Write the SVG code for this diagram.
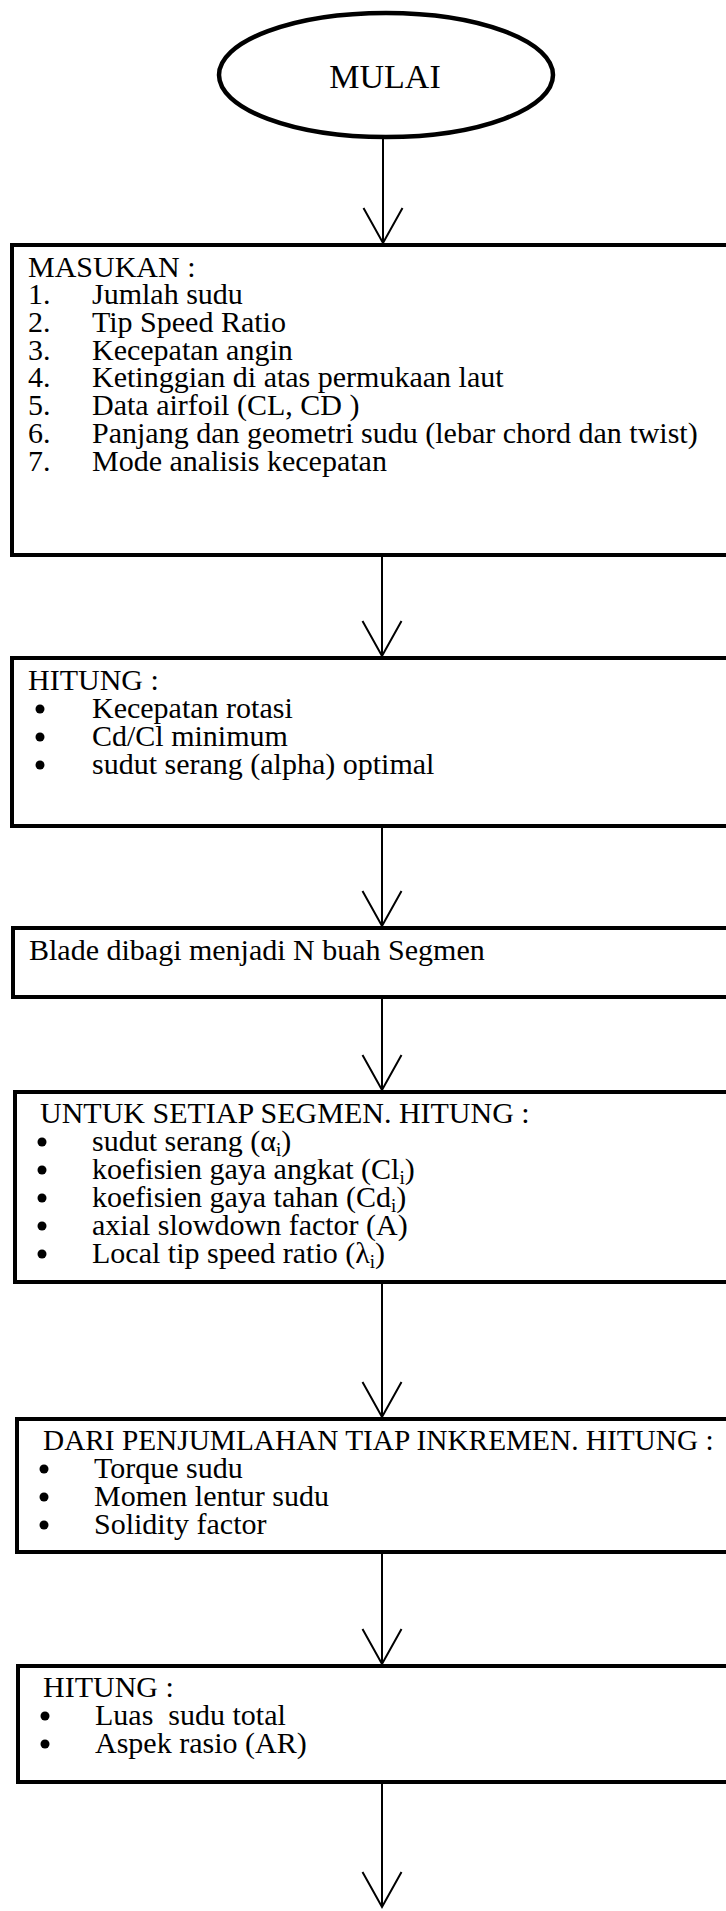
<svg xmlns="http://www.w3.org/2000/svg" width="726" height="1911" viewBox="0 0 726 1911">
<style>
.t{font-family:"Liberation Serif","Times New Roman",serif;font-size:30px;fill:#000}
.box{fill:#fff;stroke:#000;stroke-width:4}
.conn line{stroke:#000;stroke-width:2}
.sub{font-size:19px}
</style>
<defs>
<marker id="v" markerWidth="44" markerHeight="40" refX="20" refY="35" markerUnits="userSpaceOnUse" orient="0" overflow="visible">
<path d="M0.5,0 L20,35 L39.5,0" fill="none" stroke="#000" stroke-width="2"/>
</marker>
</defs>
<rect width="726" height="1911" fill="#fff"/>
<g id="connectors" class="conn">
<line x1="383" y1="137" x2="383" y2="243" marker-end="url(#v)"/>
<line x1="382" y1="555" x2="382" y2="656" marker-end="url(#v)"/>
<line x1="382" y1="826" x2="382" y2="926" marker-end="url(#v)"/>
<line x1="382" y1="997" x2="382" y2="1090" marker-end="url(#v)"/>
<line x1="382" y1="1282" x2="382" y2="1417" marker-end="url(#v)"/>
<line x1="382" y1="1552" x2="382" y2="1664" marker-end="url(#v)"/>
<line x1="382" y1="1782" x2="382" y2="1907" marker-end="url(#v)"/>
</g>
<g id="mulai">
<ellipse cx="386" cy="75" rx="167" ry="62" fill="#fff" stroke="#000" stroke-width="4.5"/>
<text class="t" x="385" y="88" text-anchor="middle" style="font-size:34px">MULAI</text>
</g>
<g id="masukan">
<rect class="box" x="12" y="245" width="740" height="310"/>
<text class="t" x="28" y="277">MASUKAN :</text>
<text class="t" x="28" y="304">1.</text><text class="t" x="92" y="304">Jumlah sudu</text>
<text class="t" x="28" y="332">2.</text><text class="t" x="92" y="332">Tip Speed Ratio</text>
<text class="t" x="28" y="360">3.</text><text class="t" x="92" y="360">Kecepatan angin</text>
<text class="t" x="28" y="387">4.</text><text class="t" x="92" y="387">Ketinggian di atas permukaan laut</text>
<text class="t" x="28" y="415">5.</text><text class="t" x="92" y="415">Data airfoil (CL, CD )</text>
<text class="t" x="28" y="443">6.</text><text class="t" x="92" y="443">Panjang dan geometri sudu (lebar chord dan twist)</text>
<text class="t" x="28" y="471">7.</text><text class="t" x="92" y="471">Mode analisis kecepatan</text>
</g>
<g id="hitung1">
<rect class="box" x="12" y="658" width="740" height="168"/>
<text class="t" x="28" y="690">HITUNG :</text>
<circle cx="40" cy="709" r="4.5"/><text class="t" x="92" y="718">Kecepatan rotasi</text>
<circle cx="40" cy="737" r="4.5"/><text class="t" x="92" y="746">Cd/Cl minimum</text>
<circle cx="40" cy="765" r="4.5"/><text class="t" x="92" y="774">sudut serang (alpha) optimal</text>
</g>
<g id="blade">
<rect class="box" x="13" y="928" width="740" height="69"/>
<text class="t" x="29" y="960">Blade dibagi menjadi N buah Segmen</text>
</g>
<g id="segmen">
<rect class="box" x="15" y="1092" width="740" height="190"/>
<text class="t" x="40" y="1123">UNTUK SETIAP SEGMEN. HITUNG :</text>
<circle cx="42" cy="1142" r="4.5"/><text class="t" x="92" y="1151">sudut serang (α<tspan class="sub" dy="5">i</tspan><tspan dy="-5">)</tspan></text>
<circle cx="42" cy="1170" r="4.5"/><text class="t" x="92" y="1179">koefisien gaya angkat (Cl<tspan class="sub" dy="5">i</tspan><tspan dy="-5">)</tspan></text>
<circle cx="42" cy="1198" r="4.5"/><text class="t" x="92" y="1207">koefisien gaya tahan (Cd<tspan class="sub" dy="5">i</tspan><tspan dy="-5">)</tspan></text>
<circle cx="42" cy="1226" r="4.5"/><text class="t" x="92" y="1235">axial slowdown factor (A)</text>
<circle cx="42" cy="1254" r="4.5"/><text class="t" x="92" y="1263">Local tip speed ratio (λ<tspan class="sub" dy="5">i</tspan><tspan dy="-5">)</tspan></text>
</g>
<g id="penjumlahan">
<rect class="box" x="17" y="1419" width="740" height="133"/>
<text class="t" x="43" y="1450" style="font-size:29.3px">DARI PENJUMLAHAN TIAP INKREMEN. HITUNG :</text>
<circle cx="44" cy="1469" r="4.5"/><text class="t" x="94" y="1478">Torque sudu</text>
<circle cx="44" cy="1497" r="4.5"/><text class="t" x="94" y="1506">Momen lentur sudu</text>
<circle cx="44" cy="1525" r="4.5"/><text class="t" x="94" y="1534">Solidity factor</text>
</g>
<g id="hitung2">
<rect class="box" x="18" y="1666" width="740" height="116"/>
<text class="t" x="43" y="1697">HITUNG :</text>
<circle cx="45" cy="1716" r="4.5"/><text class="t" x="95" y="1725" xml:space="preserve">Luas  sudu total</text>
<circle cx="45" cy="1744" r="4.5"/><text class="t" x="95" y="1753">Aspek rasio (AR)</text>
</g>
</svg>
